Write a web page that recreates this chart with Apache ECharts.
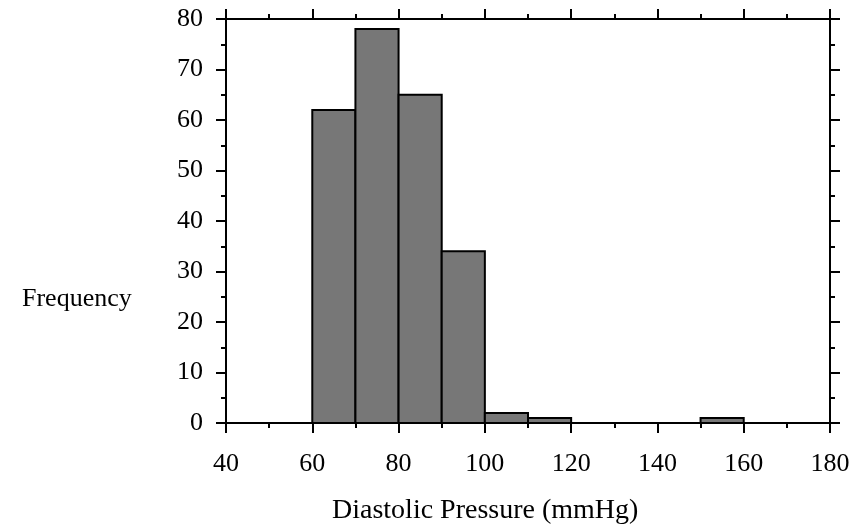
<!DOCTYPE html>
<html>
<head>
<meta charset="utf-8">
<script src="https://cdn.jsdelivr.net/npm/echarts@6/dist/echarts.min.js"></script>
<style>
html,body{margin:0;padding:0;background:#fff;}
#chart{width:855px;height:530px;}
</style>
</head>
<body>
<div id="chart"></div>
<script>
// Histogram bins (lower edge, upper edge) and frequencies
var binStarts = [60, 70, 80, 90, 100, 110, 150];
var binEnds   = [70, 80, 90, 100, 110, 120, 160];
var counts    = [62, 78, 65, 34, 2, 1, 1];

var xMin = 40, xMax = 180, xStep = 20;
var yMin = 0, yMax = 80, yStep = 10;
var xTitle = 'Diastolic Pressure (mmHg)';
var yTitle = 'Frequency';

var data = binStarts.map(function (s, i) { return [s, binEnds[i], counts[i]]; });

var FONT = '"Liberation Serif", "Times New Roman", serif';
var lineStyle = { color: '#000', width: 2 };

function axisCommon(showLabels) {
  return {
    type: 'value',
    splitLine: { show: false },
    axisLine: { show: true, onZero: false, lineStyle: lineStyle },
    axisTick: { show: true, inside: false, length: 10, lineStyle: lineStyle },
    minorTick: { show: true, splitNumber: 2, length: 5, lineStyle: lineStyle },
    axisLabel: { show: showLabels, color: '#000', fontFamily: FONT, fontSize: 26 }
  };
}

var chart = echarts.init(document.getElementById('chart'), null, { renderer: 'canvas' });

var xBottom = axisCommon(true);
Object.assign(xBottom, { position: 'bottom', min: xMin, max: xMax, interval: xStep });
xBottom.axisLabel.margin = 28;
var xTop = axisCommon(false);
Object.assign(xTop, { position: 'top', min: xMin, max: xMax, interval: xStep });
var yLeft = axisCommon(true);
Object.assign(yLeft, { position: 'left', min: yMin, max: yMax, interval: yStep });
yLeft.axisLabel.margin = 23;
var yRight = axisCommon(false);
Object.assign(yRight, { position: 'right', min: yMin, max: yMax, interval: yStep });

chart.setOption({
  animation: false,
  grid: { left: 226, right: 25, top: 19, bottom: 107, containLabel: false },
  xAxis: [xBottom, xTop],
  yAxis: [yLeft, yRight],
  graphic: [
    { type: 'text', left: 22, top: 286, style: { text: yTitle, fill: '#000', font: '26px ' + FONT } },
    { type: 'text', left: 332, top: 497, style: { text: xTitle, fill: '#000', font: '28px ' + FONT } }
  ],
  series: [{
    type: 'custom',
    xAxisIndex: 0,
    yAxisIndex: 0,
    data: data,
    encode: { x: [0, 1], y: 2 },
    renderItem: function (params, api) {
      var p0 = api.coord([api.value(0), api.value(2)]);
      var p1 = api.coord([api.value(1), 0]);
      return {
        type: 'rect',
        shape: { x: p0[0], y: p0[1], width: p1[0] - p0[0], height: p1[1] - p0[1] },
        style: { fill: '#777777', stroke: '#000', lineWidth: 2 }
      };
    }
  }]
});
</script>
</body>
</html>
